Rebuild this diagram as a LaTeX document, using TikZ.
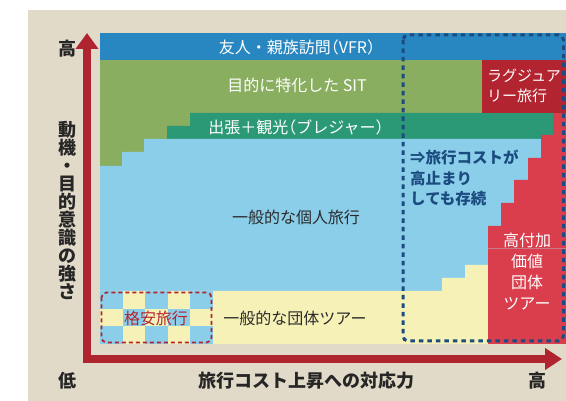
\documentclass[tikz,border=0pt]{standalone}
\usepackage{fontspec}
\setmainfont{Noto Sans CJK JP}
\usetikzlibrary{arrows.meta}
\definecolor{bgbeige}{HTML}{E1DAC8}
\definecolor{vfrblue}{HTML}{2887C0}
\definecolor{sitgreen}{HTML}{89AE60}
\definecolor{bleteal}{HTML}{2C9976}
\definecolor{indblue}{HTML}{8BCEEA}
\definecolor{grpyellow}{HTML}{F6F1B7}
\definecolor{luxred}{HTML}{B22430}
\definecolor{hvred}{HTML}{DA3E4C}
\definecolor{axred}{HTML}{B02430}
\definecolor{dotblue}{HTML}{1B4C80}
\definecolor{darktext}{HTML}{2A2A2A}
\definecolor{seamline}{HTML}{C97A86}
\newcommand{\jlparen}{\kern-0.5em（}
\newcommand{\jrparen}{）\kern-0.5em}
\begin{document}
\begin{tikzpicture}[x=1pt,y=-1pt,
  lbl/.style={inner sep=0pt, font=\fontsize{16}{20}\selectfont},
  wlbl/.style={lbl, text=white},
  dlbl/.style={lbl, text=darktext},
  axlbl/.style={inner sep=0pt, font=\fontsize{18}{18}\selectfont\bfseries, text=black!85},
  bluenote/.style={inner sep=0pt, align=left, text=dotblue, font=\fontsize{15.5}{20.5}\selectfont\bfseries},
]
\useasboundingbox (0,0) rectangle (566,401);
% background
\fill[white] (0,0) rectangle (566,401);
\fill[bgbeige] (28,10) rectangle (566,401);
% regions
\fill[vfrblue] (100,33) rectangle (566,60);
\fill[sitgreen] (100,60) rectangle (566,166);
\fill[bleteal] (167,139) -- (167,126) -- (190,126) -- (190,113) -- (566,113) -- (566,139) -- cycle;
\fill[indblue] (100,344) -- (100,166) -- (122,166) -- (122,152) -- (144,152) -- (144,139) -- (566,139) -- (566,344) -- cycle;
\fill[grpyellow] (100,344) -- (100,291) -- (442,291) -- (442,278) -- (465,278) -- (465,265) -- (488,265) -- (488,344) -- cycle;
\fill[hvred] (553,113) -- (566,113) -- (566,344) -- (488,344) -- (488,226) -- (501,226) -- (501,203) -- (514,203) -- (514,180) -- (528,180) -- (528,158) -- (541,158) -- (541,135) -- (553,135) -- cycle;
\fill[luxred] (482,60) rectangle (566,113);
\draw[seamline, line width=0.8pt] (488,248.5) -- (566,248.5);
% checker (budget travel)
\fill[grpyellow] (100,291) rectangle (213,344);
\foreach \i/\j in {0/0,2/0,4/0,1/1,3/1,0/2,2/2,4/2}
  \fill[indblue] ({100+22.6*\i},{291+17.667*\j}) rectangle ++(22.6,17.667);
\draw[luxred, line width=1.8pt, dash pattern=on 4pt off 3pt, rounded corners=5pt] (101.5,292.5) rectangle (211.5,342.5);
% dotted highlight box
\draw[dotblue, line width=3pt, dash pattern=on 4.5pt off 4pt, rounded corners=5pt] (403,35) rectangle (563.5,341);
% axes
\coordinate (ytip) at (87,33);
\coordinate (origin) at (87,359);
\coordinate (xtip) at (562,359);
\draw[axred, line width=8pt, miter limit=10, line join=miter,
  {Triangle[width=22pt,length=16pt]}-{Triangle[width=21pt,length=17pt]}] (ytip) -- (origin) -- (xtip);
% labels
\node[wlbl] (vfr) at (297,47) {友人・親族訪問\jlparen VFR\jrparen};
\node[wlbl] (sit) at (297,85) {目的に特化した SIT};
\node[wlbl] (bleisure) at (296,127) {出張＋観光\jlparen ブレジャー\jrparen};
\node[wlbl, anchor=west, align=left, font=\fontsize{15}{20}\selectfont] (lux) at (487,86) {ラグジュア\\リー旅行};
\node[bluenote, anchor=north west] (note) at (410,150) {⇒旅行コストが\\高止まり\\しても存続};
\node[dlbl] (indiv) at (296,217) {一般的な個人旅行};
\node[dlbl] (group) at (295,318) {一般的な団体ツアー};
\node[lbl, text=luxred] (budget) at (156,318) {格安旅行};
\node[wlbl, align=center, font=\fontsize{16}{21}\selectfont] (hvgroup) at (527,271.5) {高付加\\価値\\団体\\ツアー};
\node[axlbl] (yhigh) at (67,49) {高};
\node[axlbl, align=center] (ylabel) at (67,210) {動\\機\\・\\目\\的\\意\\識\\の\\強\\さ};
\node[axlbl] (low) at (67,381) {低};
\node[axlbl] (xlabel) at (306,381) {旅行コスト上昇への対応力};
\node[axlbl] (xhigh) at (537,381) {高};
\end{tikzpicture}
\end{document}
